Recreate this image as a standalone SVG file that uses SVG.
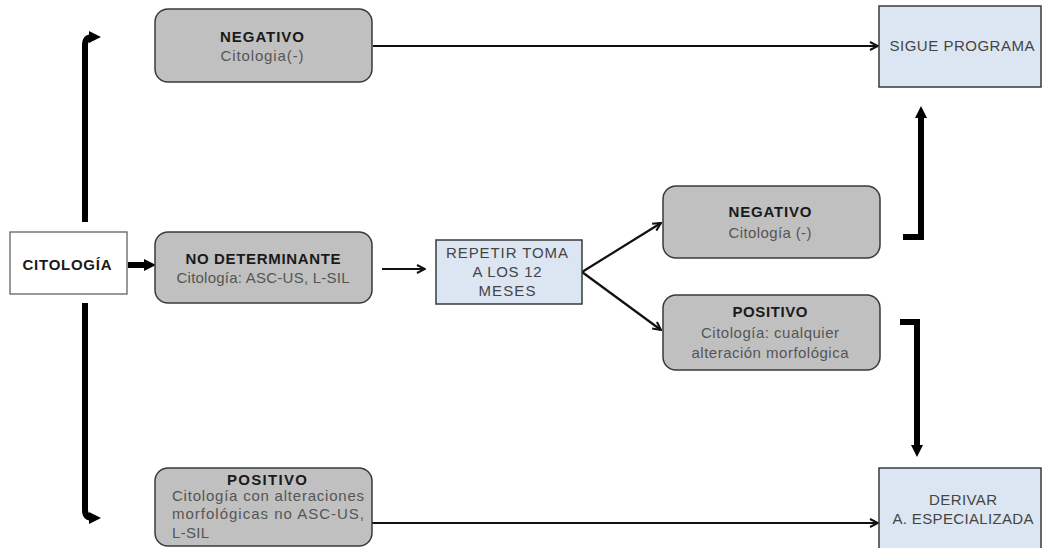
<svg xmlns="http://www.w3.org/2000/svg" width="1043" height="548" viewBox="0 0 1043 548">
<defs>
<style>
.gray{fill:#c0c0c0;stroke:#3a3a3a;stroke-width:1.5}
.blue{fill:#dce6f2;stroke:#3a3a3a;stroke-width:1.5}
.white{fill:#ffffff;stroke:#555555;stroke-width:1.2}
text{font-family:"Liberation Sans",Arial,sans-serif;font-size:15px}
.b{font-weight:bold;fill:#1a1a1a;text-anchor:middle}
.r{fill:#555555;text-anchor:middle}
.rl{fill:#555555;text-anchor:start}
.t{fill:#444444;text-anchor:middle}
.thin{fill:none;stroke:#111;stroke-width:2.2}
.thick{fill:none;stroke:#000;stroke-width:6}
</style>
<marker id="chev" viewBox="0 0 10 10" refX="9" refY="5" markerWidth="10" markerHeight="10" markerUnits="userSpaceOnUse" orient="auto">
<path d="M1,1 L9,5 L1,9" fill="none" stroke="#111" stroke-width="2"/>
</marker>
<marker id="tri" viewBox="0 0 10 10" refX="5" refY="5" markerWidth="12" markerHeight="12" markerUnits="userSpaceOnUse" orient="auto">
<path d="M0,0 L10,5 L0,10 Z" fill="#000"/>
</marker>
</defs>
<rect width="1043" height="548" fill="#ffffff"/>

<g id="connectors">
<path class="thick" d="M85,222 V45 Q85,37 93,37 H95" marker-end="url(#tri)"/>
<path class="thick" d="M85,303 V510 Q85,518 93,518 H95" marker-end="url(#tri)"/>
<path class="thick" d="M128,265 H150" stroke-width="7" marker-end="url(#tri)"/>
<path class="thin" d="M373,46 H878" marker-end="url(#chev)"/>
<path class="thin" d="M382,269 H425" marker-end="url(#chev)"/>
<path class="thin" d="M582,272 L661,223" marker-end="url(#chev)"/>
<path class="thin" d="M582,272 L661,330" marker-end="url(#chev)"/>
<path class="thin" d="M372,523 H878" marker-end="url(#chev)"/>
<path class="thick" stroke-width="5" d="M903,237 H921 V112" marker-end="url(#tri)"/>
<path class="thick" stroke-width="5" d="M900,322 H917 V451" marker-end="url(#tri)"/>
</g>

<g id="citologia">
<rect class="white" x="10" y="232" width="117" height="62"/>
<text class="b" x="67" y="270" textLength="89">CITOLOGÍA</text>
</g>

<g id="negativo1">
<rect class="gray" x="155" y="9" width="217" height="73" rx="13"/>
<text class="b" x="262" y="42" textLength="84">NEGATIVO</text>
<text class="r" x="262" y="61" textLength="83">Citologia(-)</text>
</g>

<g id="nodeterminante">
<rect class="gray" x="155" y="232" width="217" height="71" rx="13"/>
<text class="b" x="263" y="264" textLength="155">NO DETERMINANTE</text>
<text class="r" x="263" y="283" textLength="173">Citología: ASC-US, L-SIL</text>
</g>

<g id="positivo1">
<rect class="gray" x="155" y="468" width="217" height="78" rx="13"/>
<text class="b" x="267" y="485" textLength="80">POSITIVO</text>
<text class="rl" x="172" y="501" textLength="192">Citología con alteraciones</text>
<text class="rl" x="172" y="519" textLength="192">morfológicas no ASC-US,</text>
<text class="rl" x="172" y="538" textLength="37">L-SIL</text>
</g>

<g id="repetir">
<rect class="blue" x="436" y="240" width="146" height="64"/>
<text class="t" x="507" y="258" textLength="122">REPETIR TOMA</text>
<text class="t" x="507" y="277" textLength="69">A LOS 12</text>
<text class="t" x="507" y="296" textLength="57">MESES</text>
</g>

<g id="negativo2">
<rect class="gray" x="663" y="186" width="217" height="72" rx="13"/>
<text class="b" x="770" y="217" textLength="83">NEGATIVO</text>
<text class="r" x="770" y="238" textLength="83">Citología (-)</text>
</g>

<g id="positivo2">
<rect class="gray" x="663" y="295" width="217" height="75" rx="13"/>
<text class="b" x="770" y="317" textLength="75">POSITIVO</text>
<text class="r" x="770" y="338" textLength="138">Citología: cualquier</text>
<text class="r" x="770" y="358" textLength="157">alteración morfológica</text>
</g>

<g id="sigue">
<rect class="blue" x="879" y="6" width="162" height="81"/>
<text class="t" x="962" y="51" textLength="145">SIGUE PROGRAMA</text>
</g>

<g id="derivar">
<rect class="blue" x="879" y="468" width="162" height="84"/>
<text class="t" x="963" y="505" textLength="68">DERIVAR</text>
<text class="t" x="963" y="524" textLength="141">A. ESPECIALIZADA</text>
</g>
</svg>
